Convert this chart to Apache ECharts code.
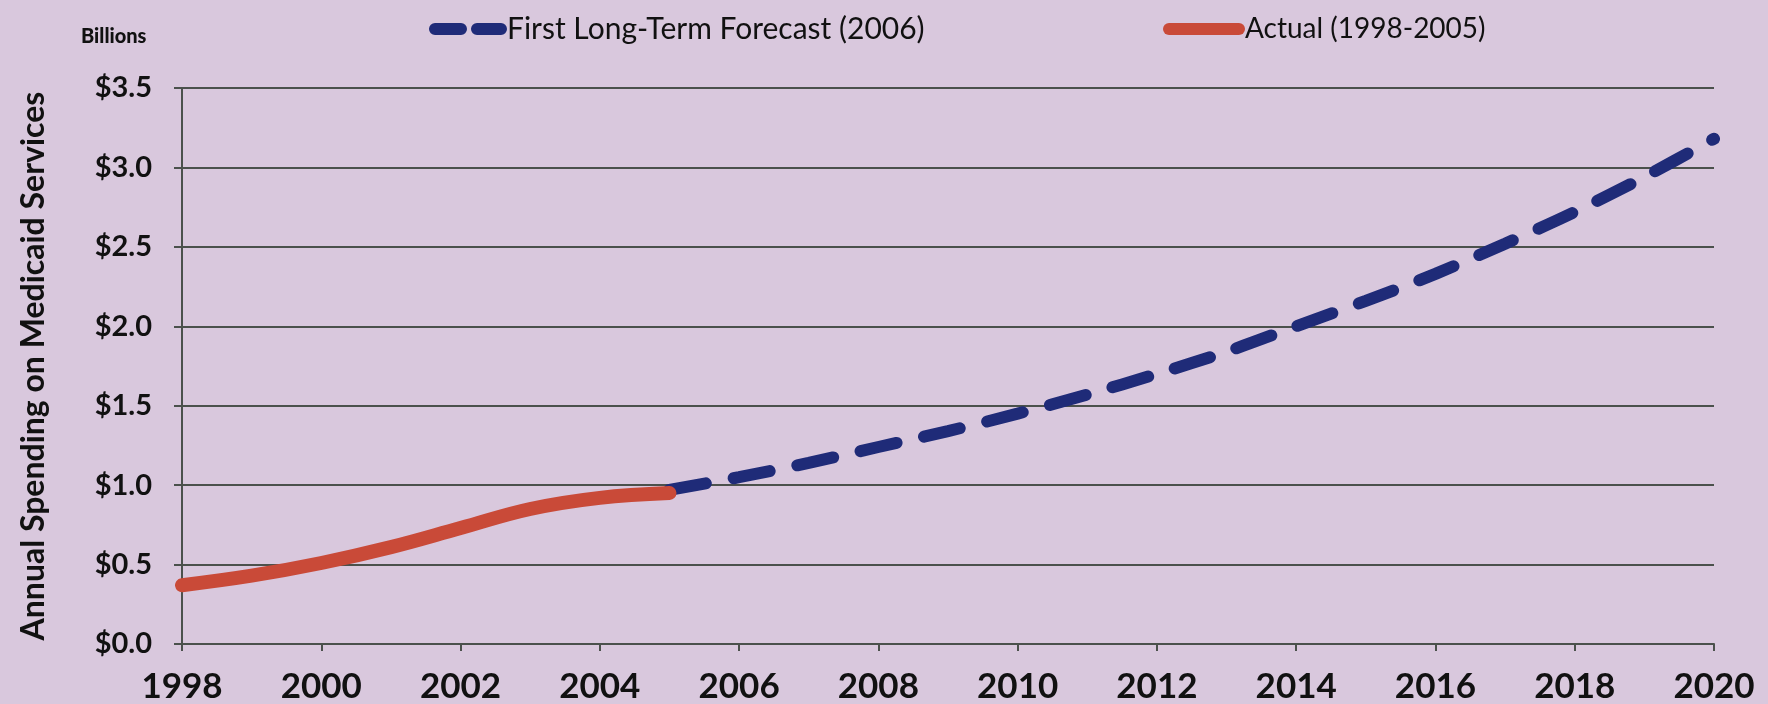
<!DOCTYPE html>
<html>
<head>
<meta charset="utf-8">
<title>Annual Spending on Medicaid Services</title>
<script src="https://cdn.jsdelivr.net/npm/echarts@6/dist/echarts.min.js"></script>
<style>
  html, body { margin: 0; padding: 0; background: #d9c8dd; overflow: hidden; }
  #chart { width: 1768px; height: 704px; }
</style>
</head>
<body>
<div id="chart"></div>
<script>
// Actual spending, 1998-2005 (billions of dollars)
const actualYears = [1998, 1999, 2000, 2001, 2002, 2003, 2004, 2005];
const actualValues = [0.37, 0.43, 0.51, 0.61, 0.73, 0.85, 0.92, 0.95];

// First long-term forecast (2006), 2005-2020 (billions of dollars)
const forecastYears = [2005, 2006, 2007, 2008, 2009, 2010, 2011, 2012, 2013, 2014, 2015, 2016, 2017, 2018, 2019, 2020];
const forecastValues = [0.97, 1.05, 1.14, 1.24, 1.34, 1.45, 1.57, 1.70, 1.84, 2.00, 2.16, 2.33, 2.52, 2.72, 2.94, 3.18];

const yTicks = [0, 0.5, 1.0, 1.5, 2.0, 2.5, 3.0, 3.5];

const seriesNames = ['First Long-Term Forecast (2006)', 'Actual (1998-2005)'];

const toPairs = (xs, ys) => xs.map((x, i) => [x, ys[i]]);

const textColor = '#111111';
const gridColor = '#4b514c';
const blue = '#1f2b78';
const red = '#c94a38';
const font = 'Lato, sans-serif';

const chart = echarts.init(document.getElementById('chart'), null, { renderer: 'canvas' });

chart.setOption({
  backgroundColor: '#d9c8dd',
  animation: false,
  title: {
    text: 'Billions',
    left: 76,
    top: 22,
    textStyle: { fontFamily: font, fontWeight: 900, fontSize: 20, color: textColor }
  },
  legend: [
    {
      left: 424,
      top: 9,
      itemWidth: 78,
      itemHeight: 12,
      textStyle: { fontFamily: font, fontSize: 30, color: textColor, padding: [0, 0, 0, -5] },
      data: [{
        name: seriesNames[0],
        icon: 'path://M6,0H32A6,6 0 0 1 32,12H6A6,6 0 0 1 6,0ZM48,0H72A6,6 0 0 1 72,12H48A6,6 0 0 1 48,0Z'
      }]
    },
    {
      left: 1158,
      top: 10,
      itemWidth: 82,
      itemHeight: 12,
      textStyle: { fontFamily: font, fontSize: 28, color: textColor, padding: [0, 0, 0, -5] },
      data: [{
        name: seriesNames[1],
        icon: 'path://M6,0H76A6,6 0 0 1 76,12H6A6,6 0 0 1 6,0Z'
      }]
    }
  ],
  grid: { left: 182, right: 54, top: 88, bottom: 57, containLabel: false },
  xAxis: {
    type: 'value',
    min: 1998,
    max: 2020,
    interval: 2,
    axisLine: { show: true, lineStyle: { color: gridColor, width: 2 } },
    axisTick: { show: true, length: 7, lineStyle: { color: gridColor, width: 2 } },
    splitLine: { show: false },
    axisLabel: {
      margin: 25,
      formatter: v => String(v),
      fontFamily: font, fontWeight: 700, fontSize: 35, color: textColor
    }
  },
  yAxis: {
    type: 'value',
    min: yTicks[0],
    max: yTicks[yTicks.length - 1],
    interval: 0.5,
    name: 'Annual Spending on Medicaid Services',
    nameLocation: 'middle',
    nameRotate: 90,
    nameGap: 132,
    nameTextStyle: { fontFamily: font, fontWeight: 700, fontSize: 32, color: textColor },
    axisLine: { show: true, lineStyle: { color: gridColor, width: 2 } },
    axisTick: { show: true, length: 8, lineStyle: { color: gridColor, width: 2 } },
    splitLine: { show: true, lineStyle: { color: gridColor, width: 2 } },
    axisLabel: {
      margin: 30,
      formatter: v => '$' + v.toFixed(1),
      fontFamily: font, fontWeight: 700, fontSize: 29, color: textColor
    }
  },
  series: [
    {
      name: seriesNames[0],
      type: 'line',
      data: toPairs(forecastYears, forecastValues),
      smooth: 0.3,
      showSymbol: false,
      color: blue,
      lineStyle: { color: blue, width: 12, type: [37, 28], cap: 'round' },
      z: 2
    },
    {
      name: seriesNames[1],
      type: 'line',
      data: toPairs(actualYears, actualValues),
      smooth: 0.4,
      showSymbol: false,
      color: red,
      lineStyle: { color: red, width: 14, cap: 'round' },
      z: 3
    }
  ]
});
</script>
</body>
</html>
